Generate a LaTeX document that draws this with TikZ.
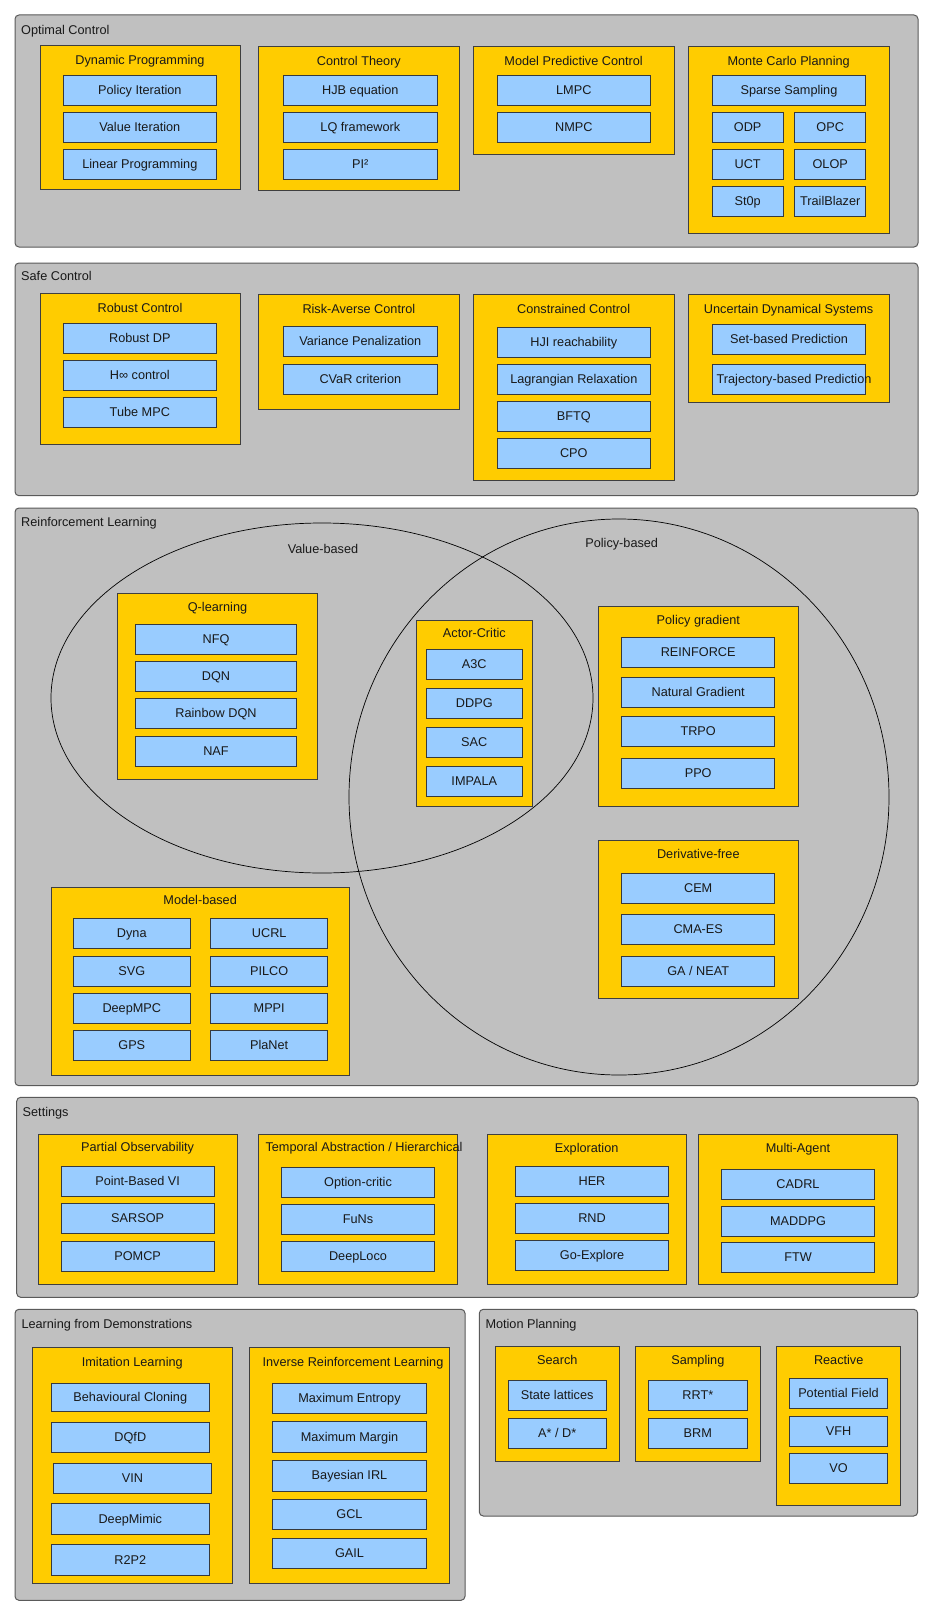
\documentclass[tikz,border=0pt]{standalone}
\usepackage{fontspec}
\setmainfont{Liberation Sans}
\definecolor{outerfill}{HTML}{C0C0C0}
\definecolor{outerline}{HTML}{5A5A5A}
\definecolor{grpfill}{HTML}{FFCC00}
\definecolor{grpline}{HTML}{3F3F3F}
\definecolor{itmfill}{HTML}{99CCFF}
\definecolor{itmline}{HTML}{36393D}
\tikzset{
  outerbox/.style={draw=outerline, fill=outerfill, rounded corners=4pt, line width=1pt, inner sep=0pt, outer sep=0pt},
  grpbox/.style={draw=grpline, fill=grpfill, line width=1pt, inner sep=0pt, outer sep=0pt},
  itmbox/.style={draw=itmline, fill=itmfill, line width=1pt, inner sep=0pt, outer sep=0pt},
  txt/.style={font=\fontsize{12.7}{14}\selectfont, inner sep=0pt, text height=8.4pt, text depth=0pt, text=black!90},
  sectlabel/.style={txt, anchor=west},
  venn/.style={draw=black, line width=0.7pt}
}
% #1 style, #2 name, #3 x1, #4 y1, #5 x2, #6 y2
\newcommand\mkrect[6]{\node[#1, minimum width={(#5)-(#3)}, minimum height={(#6)-(#4)}, anchor=north west] (#2) at (#3,#4) {};}
% item with centred text
\newcommand\mkitem[6]{\mkrect{itmbox}{#1}{#2}{#3}{#4}{#5}\node[txt] (#1-t) at (#1.center) {#6};}
% group with title at given y
\newcommand\mkgrp[7]{\mkrect{grpbox}{#1}{#2}{#3}{#4}{#5}\node[txt] (#1-t) at ({(#2+#4)/2},#6) {#7};}
\begin{document}
\begin{tikzpicture}[x=1pt,y=-1pt]
\useasboundingbox[fill=white] (0,0) rectangle (933,1616);

% ================= Optimal Control
\mkrect{outerbox}{oc}{15}{15}{918}{247}
\node[sectlabel] (oc-t) at (21,30) {Optimal Control};
\mkgrp{dp}{40}{46}{240}{190}{60.5}{Dynamic Programming}
\mkitem{pi}{63}{75.3}{216.7}{105.3}{Policy Iteration}
\mkitem{vi}{63}{112.7}{216.7}{142.7}{Value Iteration}
\mkitem{lp}{63}{149.7}{216.7}{179.7}{Linear Programming}
\mkgrp{ct}{258.7}{46.5}{459}{190.3}{61}{Control Theory}
\mkitem{hjb}{283.7}{75.3}{437}{105.3}{HJB equation}
\mkitem{lq}{283.7}{112.7}{437}{142.7}{LQ framework}
\mkitem{pi2}{283.7}{149.7}{437}{179.7}{PI²}
\mkgrp{mpc}{473.3}{46.7}{674}{155}{61}{Model Predictive Control}
\mkitem{lmpc}{497.3}{75.3}{650.3}{105.3}{LMPC}
\mkitem{nmpc}{497.3}{112.3}{650.3}{142.3}{NMPC}
\mkgrp{mcp}{688.3}{46.7}{889}{233}{61}{Monte Carlo Planning}
\mkitem{ss}{712.3}{75.3}{865.7}{105.3}{Sparse Sampling}
\mkitem{odp}{712.3}{112.3}{783}{142.3}{ODP}
\mkitem{opc}{794.7}{112.3}{865.7}{142.3}{OPC}
\mkitem{uct}{712.3}{149.3}{783}{179.3}{UCT}
\mkitem{olop}{794.7}{149.3}{865.7}{179.3}{OLOP}
\mkitem{stop}{712.3}{186.3}{783}{216.3}{St0p}
\mkitem{tb}{794.7}{186.3}{865.7}{216.3}{TrailBlazer}

% ================= Safe Control
\mkrect{outerbox}{sc}{15}{263}{918}{495.7}
\node[sectlabel] (sc-t) at (21,276.7) {Safe Control};
\mkgrp{rc}{40}{293.3}{240}{444}{308}{Robust Control}
\mkitem{rdp}{63}{323.3}{216.7}{353.3}{Robust DP}
\mkitem{hinf}{63}{360.3}{216.7}{390.3}{H∞ control}
\mkitem{tube}{63}{397.3}{216.7}{427.3}{Tube MPC}
\mkgrp{rac}{258.7}{294.3}{459}{409.3}{309}{Risk-Averse Control}
\mkitem{vp}{283.7}{326.3}{437}{356.3}{Variance Penalization}
\mkitem{cvar}{283.7}{364}{437}{394}{CVaR criterion}
\mkgrp{cc}{473.3}{294}{674}{480.7}{309}{Constrained Control}
\mkitem{hji}{497.3}{327}{650.3}{357}{HJI reachability}
\mkitem{lr}{497.3}{364.3}{650.3}{394.3}{Lagrangian Relaxation}
\mkitem{bftq}{497.3}{401.3}{650.3}{431.3}{BFTQ}
\mkitem{cpo}{497.3}{438.3}{650.3}{468.3}{CPO}
\mkgrp{uds}{688.3}{294}{889}{402.7}{309}{Uncertain Dynamical Systems}
\mkitem{sbp}{712.3}{324.3}{865.7}{354.3}{Set-based Prediction}
\mkrect{itmbox}{tbp}{712.3}{364.3}{865.7}{394.3}
\node[txt] (tbp-t) at (794,379.3) {Trajectory-based Prediction};

% ================= Reinforcement Learning
\mkrect{outerbox}{rl}{15}{508}{918}{1085.7}
\node[sectlabel] (rl-t) at (21,522) {Reinforcement Learning};
\draw[venn] (322,698) ellipse [x radius=271, y radius=175];
\draw[venn] (619,797) ellipse [x radius=270, y radius=278];
\node[txt] (vb-t) at (323,549) {Value-based};
\node[txt] (pb-t) at (621.7,543.7) {Policy-based};
\mkgrp{ql}{117.3}{593.3}{317.7}{779.3}{607}{Q-learning}
\mkitem{nfq}{135.3}{624.3}{296.7}{654.3}{NFQ}
\mkitem{dqn}{135.3}{661.3}{296.7}{691.3}{DQN}
\mkitem{rdqn}{135.3}{698.7}{296.7}{728.7}{Rainbow DQN}
\mkitem{naf}{135.3}{736}{296.7}{766}{NAF}
\mkgrp{ac}{416}{620}{532.7}{806}{633.7}{Actor-Critic}
\mkitem{a3c}{426.3}{649}{522.3}{679}{A3C}
\mkitem{ddpg}{426.3}{688}{522.3}{718}{DDPG}
\mkitem{sac}{426.3}{727}{522.3}{757}{SAC}
\mkitem{impala}{426.3}{766}{522.3}{796}{IMPALA}
\mkgrp{pg}{598.3}{606}{798.3}{806}{620}{Policy gradient}
\mkitem{reinf}{621.7}{637}{774.7}{667}{REINFORCE}
\mkitem{ng}{621.7}{677}{774.7}{707}{Natural Gradient}
\mkitem{trpo}{621.7}{716.7}{774.7}{746.7}{TRPO}
\mkitem{ppo}{621.7}{758.3}{774.7}{788.3}{PPO}
\mkgrp{df}{598.3}{840.7}{798.3}{998.7}{854.7}{Derivative-free}
\mkitem{cem}{621.7}{873}{774.7}{903}{CEM}
\mkitem{cmaes}{621.7}{914.3}{774.7}{944.3}{CMA-ES}
\mkitem{ganeat}{621.7}{956}{774.7}{986}{GA / NEAT}
\mkgrp{mb}{51.3}{887}{349}{1075}{900.7}{Model-based}
\mkitem{dyna}{73.3}{918}{190.3}{948}{Dyna}
\mkitem{ucrl}{210.7}{918}{327.7}{948}{UCRL}
\mkitem{svg}{73.3}{956}{190.3}{986}{SVG}
\mkitem{pilco}{210.7}{956}{327.7}{986}{PILCO}
\mkitem{dmpc}{73.3}{993}{190.3}{1023}{DeepMPC}
\mkitem{mppi}{210.7}{993}{327.7}{1023}{MPPI}
\mkitem{gps}{73.3}{1030}{190.3}{1060}{GPS}
\mkitem{planet}{210.7}{1030}{327.7}{1060}{PlaNet}

% ================= Settings
\mkrect{outerbox}{st}{16.7}{1097.3}{918}{1297.3}
\node[sectlabel] (st-t) at (22.5,1112) {Settings};
\mkgrp{po}{38}{1134}{237.3}{1284}{1147.7}{Partial Observability}
\mkitem{pbvi}{61}{1166}{214.3}{1196}{Point-Based VI}
\mkitem{sarsop}{61}{1203.7}{214.3}{1233.7}{SARSOP}
\mkitem{pomcp}{61}{1241.3}{214.3}{1271.3}{POMCP}
\mkrect{grpbox}{ta}{258.3}{1134}{457.3}{1284}
\node[txt] (ta-t) at (364,1147.7) {Temporal Abstraction / Hierarchical};
\mkitem{oc2}{281.3}{1167.3}{434.7}{1197.3}{Option-critic}
\mkitem{funs}{281.3}{1204.3}{434.7}{1234.3}{FuNs}
\mkitem{dloco}{281.3}{1241.3}{434.7}{1271.3}{DeepLoco}
\mkgrp{ex}{487}{1134}{686.3}{1284}{1148}{Exploration}
\mkitem{her}{515.3}{1166.3}{668.7}{1196.3}{HER}
\mkitem{rnd}{515.3}{1203.3}{668.7}{1233.3}{RND}
\mkitem{goex}{515.3}{1240.3}{668.7}{1270.3}{Go-Explore}
\mkgrp{ma}{698.3}{1134}{897.7}{1284}{1148}{Multi-Agent}
\mkitem{cadrl}{721.3}{1169}{874.7}{1199}{CADRL}
\mkitem{maddpg}{721.3}{1206}{874.7}{1236}{MADDPG}
\mkitem{ftw}{721.3}{1242.7}{874.7}{1272.7}{FTW}

% ================= Learning from Demonstrations
\mkrect{outerbox}{lfd}{15}{1309.3}{465}{1600.3}
\node[sectlabel] (lfd-t) at (21.3,1324) {Learning from Demonstrations};
\mkgrp{il}{32.3}{1347.3}{232.3}{1583}{1362}{Imitation Learning}
\mkitem{bc}{51.3}{1383}{209.3}{1411.3}{Behavioural Cloning}
\mkitem{dqfd}{51.3}{1422.3}{209.3}{1452.3}{DQfD}
\mkitem{vin}{53.3}{1463}{211.7}{1493.3}{VIN}
\mkitem{dmimic}{51.3}{1503.7}{209.3}{1534}{DeepMimic}
\mkitem{r2p2}{51.3}{1544.7}{209.3}{1575}{R2P2}
\mkrect{grpbox}{irl}{249.3}{1347.3}{449.7}{1583}
\node[txt] (irl-t) at (353,1362) {Inverse Reinforcement Learning};
\mkitem{maxent}{272.7}{1383}{426.3}{1413.3}{Maximum Entropy}
\mkitem{maxmar}{272.7}{1421.7}{426.3}{1452.3}{Maximum Margin}
\mkitem{birl}{272.7}{1460.3}{426.3}{1491}{Bayesian IRL}
\mkitem{gcl}{272.7}{1499.3}{426.3}{1529.7}{GCL}
\mkitem{gail}{272.7}{1538}{426.3}{1568.3}{GAIL}

% ================= Motion Planning
\mkrect{outerbox}{mp}{479.3}{1309.3}{917.7}{1516}
\node[sectlabel] (mp-t) at (485.3,1324) {Motion Planning};
\mkgrp{search}{495.3}{1346.3}{619.3}{1461.7}{1360}{Search}
\mkitem{slat}{508}{1380}{606.3}{1410}{State lattices}
\mkitem{astar}{508}{1418}{606.3}{1448}{A* / D*}
\mkgrp{samp}{635.7}{1346.3}{760}{1461.7}{1360}{Sampling}
\mkitem{rrt}{648.7}{1380}{747}{1410}{RRT*}
\mkitem{brm}{648.7}{1418}{747}{1448}{BRM}
\mkgrp{react}{776.7}{1346.3}{900.7}{1505}{1360}{Reactive}
\mkitem{pf}{789.3}{1378.7}{887.7}{1408.7}{Potential Field}
\mkitem{vfh}{789.3}{1416.3}{887.7}{1446.3}{VFH}
\mkitem{vo}{789.3}{1453.7}{887.7}{1483.7}{VO}
\end{tikzpicture}
\end{document}
